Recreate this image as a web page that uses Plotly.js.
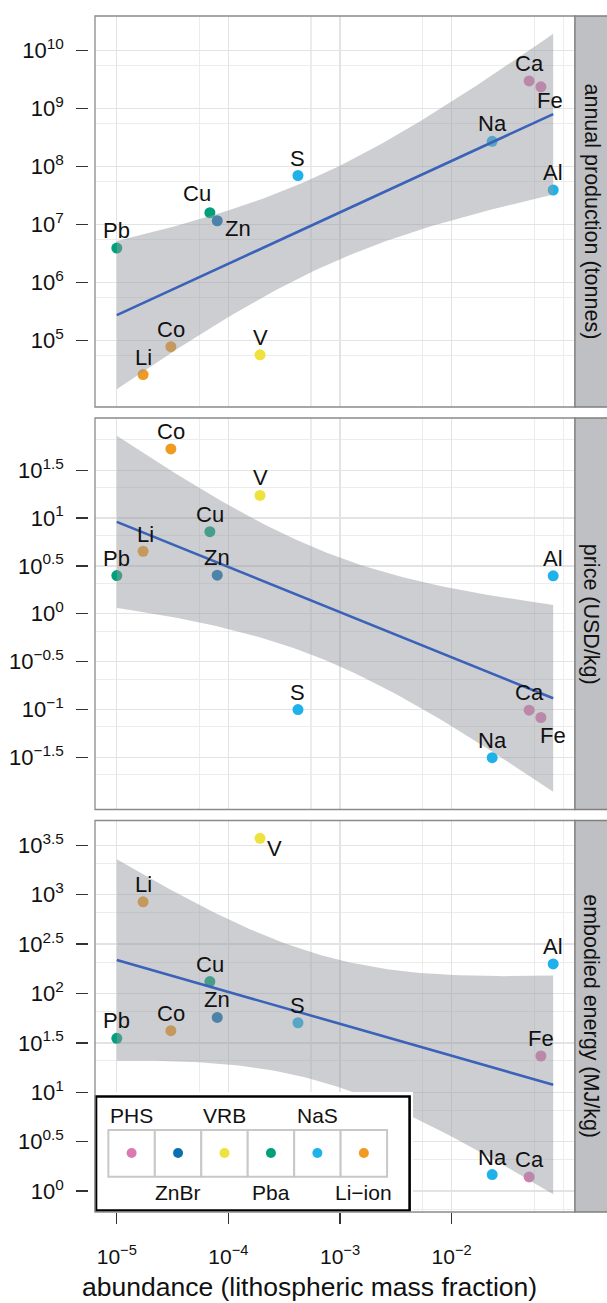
<!DOCTYPE html>
<html><head><meta charset="utf-8">
<script src="https://cdn.plot.ly/plotly-3.0.1.min.js"></script>
<style>html,body{margin:0;padding:0;background:#fff;} #chart{width:607px;height:1303px;}</style>
</head><body><div id="chart"></div>
<script>
// ---------------- data ----------------
const elements   = ['Pb','Li','Co','Cu','Zn','V','S','Na','Ca','Fe','Al'];
const technology = ['Pba','Li\u2212ion','Li\u2212ion','Pba','ZnBr','VRB','NaS','NaS','PHS','PHS','NaS'];
const abundance  = [1.0e-5,1.72e-5,3.05e-5,6.82e-5,7.94e-5,1.92e-4,4.20e-4,2.31e-2,4.95e-2,6.31e-2,8.13e-2];
const production = [3.89e6,2.57e4,7.76e4,1.585e7,1.148e7,5.62e4,6.92e7,2.69e8,2.95e9,2.34e9,3.89e7];
const price      = [2.506,4.498,52.7,7.21,2.529,17.2,0.100,0.0314,0.0984,0.0826,2.489];
const energy     = [35.2,847,42.0,132,57.3,3724,50.6,1.47,1.39,23.3,199];

const legendOrder = ['PHS','ZnBr','VRB','Pba','NaS','Li\u2212ion'];
const panelTitles = ['annual production (tonnes)','price (USD/kg)','embodied energy (MJ/kg)'];
const xTickExp  = [-5,-4,-3,-2];
const yTickExp1 = [5,6,7,8,9,10];
const yTickExp2 = [-1.5,-1,-0.5,0,0.5,1,1.5];
const yTickExp3 = [0,0.5,1,1.5,2,2.5,3,3.5];

// ---------------- styles ----------------
const techColors = {'PHS':'#DA7AB1','ZnBr':'#0B70B0','VRB':'#EEE23C','Pba':'#00A07A','NaS':'#1FB2EA','Li\u2212ion':'#F09A22'};
const FONT = 'Liberation Sans, Arial, Helvetica, sans-serif';
const TXT = '#111111';
const W = 607, H = 1303, ML = 60, MR = 32, MT = 16, MB = 91;
const PW = W - ML - MR, PH = H - MT - MB;
const px2x = p => (p - ML) / PW;
const px2y = p => (H - MB - p) / PH;
const xDomain = [px2x(95), 1];
const yDomains = [[px2y(407), px2y(16)], [px2y(809.5), px2y(418)], [px2y(1212), px2y(820.5)]];
const yAxisPos = px2x(88.3);
// label offsets (screen px: right, up) – default above the point
const labelShift = [
  {Cu:[-12.8,19.3], Zn:[21,-8], Fe:[9.3,-13.7]},
  {Li:[2.7,16.7], Fe:[12.4,-17.7]},
  {V:[14.3,-10.3]}
];

// ---------------- linear model with 95% CI on log10 scales ----------------
const T975_DF9 = 2.262157; // Student t quantile, df = n - 2 = 9
function lmBand(xs, ys) {
  const n = xs.length;
  const mx = xs.reduce((a,b)=>a+b,0)/n, my = ys.reduce((a,b)=>a+b,0)/n;
  let sxx=0, sxy=0;
  for (let i=0;i<n;i++){ sxx += (xs[i]-mx)**2; sxy += (xs[i]-mx)*(ys[i]-my); }
  const b = sxy/sxx, a = my - b*mx;
  let ssr = 0;
  for (let i=0;i<n;i++){ ssr += (ys[i]-a-b*xs[i])**2; }
  const s = Math.sqrt(ssr/(n-2));
  const x0 = Math.min(...xs), x1 = Math.max(...xs);
  const gx=[], fit=[], lo=[], hi=[];
  for (let k=0;k<80;k++){
    const x = x0 + (x1-x0)*k/79;
    const f = a + b*x;
    const se = s*Math.sqrt(1/n + (x-mx)**2/sxx);
    gx.push(x); fit.push(f); lo.push(f - T975_DF9*se); hi.push(f + T975_DF9*se);
  }
  return {gx, fit, lo, hi};
}
const L = v => Math.log10(v);
const P = v => Math.pow(10, v);
const lx = abundance.map(L);
const series = [production, price, energy];
const yTicks = [yTickExp1, yTickExp2, yTickExp3];
const fmtExp = e => '10<sup>' + String(e).replace('-', '\u2212') + '</sup>';
function minorMids(exps) {
  const step = exps.length > 1 ? exps[1]-exps[0] : 1;
  const all = [exps[0]-step, ...exps, exps[exps.length-1]+step];
  const out = [];
  for (let i=0;i<all.length-1;i++) out.push((P(all[i]) + P(all[i+1]))/2);
  return out;
}
const xSpan = Math.max(...lx) - Math.min(...lx);
const xRange = [Math.min(...lx) - 0.05*xSpan, Math.max(...lx) + 0.05*xSpan];

const traces = [], annotations = [], shapes = [];
const layout = {
  width: W, height: H, margin: {l: ML, r: MR, t: MT, b: MB},
  paper_bgcolor: '#fff', plot_bgcolor: '#fff', showlegend: false, hovermode: false,
  font: {family: FONT, color: TXT, size: 21},
  xaxis: {
    type: 'log', domain: xDomain, anchor: 'y3', range: xRange,
    tickmode: 'array', tickvals: xTickExp.map(P), ticktext: xTickExp.map(fmtExp),
    ticks: 'outside', ticklen: 11, tickwidth: 1.2, tickcolor: '#333',
    tickfont: {size: 21, color: TXT, family: FONT}, ticklabelstandoff: 15,
    showline: false, zeroline: false, showgrid: true, gridcolor: '#e3e3e3', gridwidth: 1.3,
    minor: {tickmode: 'array', tickvals: [...minorMids(xTickExp.concat([-1])), 0.1], showgrid: true, gridcolor: '#ececec', gridwidth: 1.1, ticks: ''}
  }
};

series.forEach((vals, p) => {
  const yid = p === 0 ? 'y' : 'y' + (p+1);
  const ykey = p === 0 ? 'yaxis' : 'yaxis' + (p+1);
  const ly = vals.map(L);
  const band = lmBand(lx, ly);
  const lo = Math.min(...ly, ...band.lo), hi = Math.max(...ly, ...band.hi);
  const span = hi - lo;
  layout[ykey] = {
    type: 'log', domain: yDomains[p], anchor: 'free', position: yAxisPos, side: 'left',
    range: [lo - 0.05*span, hi + 0.05*span],
    tickmode: 'array', tickvals: yTicks[p].map(P), ticktext: yTicks[p].map(fmtExp),
    ticks: 'outside', ticklen: 12, tickwidth: 1.3, tickcolor: '#333',
    tickfont: {size: 22, color: TXT, family: FONT}, ticklabelstandoff: 8,
    showline: false, zeroline: false, showgrid: true, gridcolor: '#e3e3e3', gridwidth: 1.3,
    minor: {tickmode: 'array', tickvals: minorMids(yTicks[p]), showgrid: true, gridcolor: '#ececec', gridwidth: 1.1, ticks: ''}
  };
  // points
  traces.push({type: 'scatter', mode: 'markers', x: abundance, y: vals, xaxis: 'x', yaxis: yid,
    marker: {size: 11, color: technology.map(t => techColors[t]), line: {width: 0}}});
  // confidence band
  traces.push({type: 'scatter', mode: 'lines', xaxis: 'x', yaxis: yid,
    x: band.gx.concat(band.gx.slice().reverse()).map(P),
    y: band.hi.concat(band.lo.slice().reverse()).map(P),
    fill: 'toself', fillcolor: 'rgba(150,152,158,0.48)', line: {width: 0}});
  // fitted line
  traces.push({type: 'scatter', mode: 'lines', xaxis: 'x', yaxis: yid,
    x: band.gx.map(P), y: band.fit.map(P), line: {color: '#3A62B8', width: 2.6}});
  // labels
  elements.forEach((el, i) => {
    const sh = labelShift[p][el] || [0, 17.5];
    annotations.push({xref: 'x', yref: yid, x: lx[i], y: ly[i], text: el, showarrow: false,
      xshift: sh[0], yshift: sh[1], font: {size: 22, color: TXT, family: FONT}});
  });
  // panel border and strip
  shapes.push({type: 'rect', xref: 'paper', yref: 'paper', x0: xDomain[0], x1: 1, y0: yDomains[p][0], y1: yDomains[p][1],
    line: {color: '#8a8a8a', width: 1.3}, fillcolor: 'rgba(0,0,0,0)', layer: 'above'});
  shapes.push({type: 'rect', xref: 'paper', yref: 'paper', x0: 1, x1: px2x(W + 2), y0: yDomains[p][0], y1: yDomains[p][1],
    line: {color: '#7f7f7f', width: 1.3}, fillcolor: '#BFC0C3', layer: 'above'});
  annotations.push({xref: 'paper', yref: 'paper', x: px2x(591), y: (yDomains[p][0] + yDomains[p][1])/2,
    text: panelTitles[p], textangle: 90, showarrow: false, xanchor: 'center', yanchor: 'middle',
    font: {size: 21.5, color: TXT, family: FONT}});
});

// x-axis title
annotations.push({xref: 'paper', yref: 'paper', x: px2x(309), y: px2y(1287), xanchor: 'center', yanchor: 'middle',
  text: 'abundance (lithospheric mass fraction)', showarrow: false, font: {size: 26.5, color: TXT, family: FONT}});

// ---------------- legend (own little subplot) ----------------
const keyW = 46.45, key0 = 131.6;
layout.xaxis4 = {type: 'category', categoryorder: 'array', categoryarray: legendOrder,
  domain: [px2x(92), px2x(413)], range: [(92 - key0)/keyW, (413 - key0)/keyW], anchor: 'y4', visible: false, fixedrange: true};
layout.yaxis4 = {domain: [px2y(1212), px2y(1092)], range: [1212, 1092], anchor: 'x4', visible: false, fixedrange: true};
shapes.push({type: 'rect', xref: 'x4', yref: 'y4', x0: (96 - key0)/keyW, x1: (409.6 - key0)/keyW, y0: 1096.5, y1: 1210.5,
  line: {color: '#000', width: 2.6}, fillcolor: '#fff', layer: 'below'});
legendOrder.forEach((g, i) => {
  shapes.push({type: 'rect', xref: 'x4', yref: 'y4', x0: i - 0.5, x1: i + 0.5, y0: 1130, y1: 1176.7,
    line: {color: '#c8c8c8', width: 2}, fillcolor: '#fff', layer: 'below'});
  annotations.push({xref: 'x4', yref: 'y4', x: i, y: i % 2 === 0 ? 1115 : 1192.3, text: g, showarrow: false,
    xanchor: 'center', yanchor: 'middle', font: {size: 21, color: TXT, family: FONT}});
});
traces.push({type: 'scatter', mode: 'markers', xaxis: 'x4', yaxis: 'y4', x: legendOrder, y: legendOrder.map(() => 1153),
  marker: {size: 10, color: legendOrder.map(g => techColors[g])}});

layout.shapes = shapes;
layout.annotations = annotations;
Plotly.newPlot('chart', traces, layout, {staticPlot: true, displayModeBar: false});
</script></body></html>
